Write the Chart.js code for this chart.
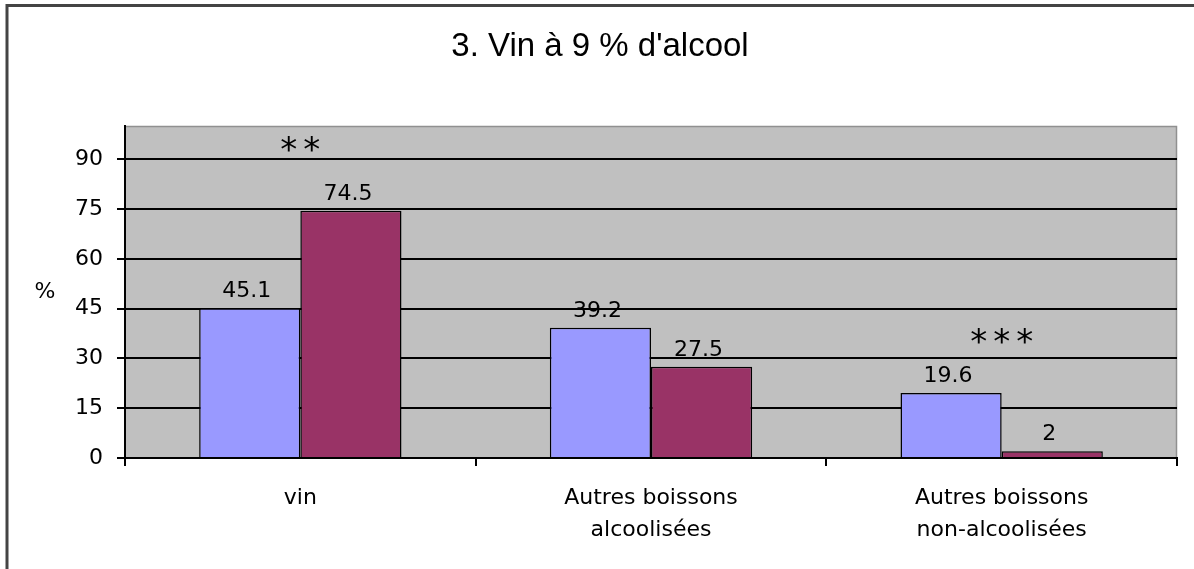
<!DOCTYPE html>
<html><head><meta charset="utf-8">
<script src="https://cdn.jsdelivr.net/npm/chart.js@4.4.0/dist/chart.umd.min.js"></script>
<style>html,body{margin:0;padding:0;background:#fff;overflow:hidden}#wrap{position:relative;width:1194px;height:569px}</style>
</head><body><div id="wrap"><canvas id="c" width="1194" height="569"></canvas></div>
<script>
const titleText = "3. Vin à 9 % d'alcool";
const categories = [["vin"], ["Autres boissons", "alcoolisées"], ["Autres boissons", "non-alcoolisées"]];
const seriesA = [45.1, 39.2, 19.6];
const seriesB = [74.5, 27.5, 2];
const yTicks = [0, 15, 30, 45, 60, 75, 90];
const yMax = 100;
const sigLabels = ["**", "", "***"];
const sigLevels = [95, null, 37];
const yUnit = "%";

const FONT = "'DejaVu Sans', 'Liberation Sans', sans-serif";

const framePlugin = {
  id: 'frame',
  beforeDraw(chart) {
    const ctx = chart.ctx, a = chart.chartArea;
    ctx.save();
    ctx.fillStyle = '#fff';
    ctx.fillRect(0, 0, chart.width, chart.height);
    ctx.strokeStyle = '#444';
    ctx.lineWidth = 3;
    ctx.beginPath();
    ctx.moveTo(7, chart.height); ctx.lineTo(7, 5.5); ctx.lineTo(chart.width, 5.5);
    ctx.stroke();
    ctx.fillStyle = '#C0C0C0';
    ctx.fillRect(a.left, a.top, a.right - a.left, a.bottom - a.top);
    ctx.strokeStyle = '#909090';
    ctx.lineWidth = 1.5;
    ctx.beginPath();
    ctx.moveTo(a.left, a.top + 0.5); ctx.lineTo(a.right - 0.5, a.top + 0.5); ctx.lineTo(a.right - 0.5, a.bottom);
    ctx.stroke();
    ctx.restore();
  },
  afterDraw(chart) {
    const ctx = chart.ctx, ys = chart.scales.y, xs = chart.scales.x;
    ctx.save();
    ctx.fillStyle = '#000';
    // title
    ctx.font = "33px 'Liberation Sans', Arial, sans-serif";
    ctx.textAlign = 'center';
    ctx.textBaseline = 'alphabetic';
    ctx.fillText(titleText, 600, 56);
    // unit label
    ctx.font = "22px " + FONT;
    ctx.textBaseline = 'middle';
    ctx.fillText(yUnit, 45, 292);
    // data labels
    ctx.font = "22px " + FONT;
    ctx.textBaseline = 'alphabetic';
    chart.data.datasets.forEach((ds, di) => {
      const meta = chart.getDatasetMeta(di);
      meta.data.forEach((el, i) => {
        ctx.fillText(String(ds.data[i]), el.x - 3, el.y - 11);
      });
    });
    // significance marks
    ctx.font = "34px " + FONT;
    ctx.letterSpacing = '6px';
    sigLabels.forEach((s, i) => {
      if (!s) return;
      const x = xs.getPixelForValue(i);
      const y = ys.getPixelForValue(sigLevels[i]);
      ctx.fillText(s, x + 3, y + 18);
    });
    ctx.restore();
  }
};

new Chart(document.getElementById('c'), {
  type: 'bar',
  data: {
    labels: categories,
    datasets: [
      { label: 'A', data: seriesA, backgroundColor: '#9999FF', borderColor: '#000', borderWidth: 1.5, categoryPercentage: 0.577, barPercentage: 1 },
      { label: 'B', data: seriesB, backgroundColor: '#993366', borderColor: '#000', borderWidth: 1.5, categoryPercentage: 0.577, barPercentage: 1 }
    ]
  },
  options: {
    responsive: false,
    animation: false,
    devicePixelRatio: 1,
    layout: { padding: { left: 0, right: 17, top: 126, bottom: 0 } },
    plugins: {
      legend: { display: false },
      tooltip: { enabled: false },
      title: { display: false }
    },
    scales: {
      x: {
        grid: { display: true, drawOnChartArea: false, drawTicks: true, tickLength: 8, color: '#000', lineWidth: 2, offset: true },
        border: { display: true, color: '#000', width: 2 },
        ticks: { color: '#000', font: { family: FONT, size: 22, lineHeight: 1.45 }, padding: 16, maxRotation: 0, autoSkip: false },
        afterFit(s) { s.height = 111; }
      },
      y: {
        min: 0, max: yMax,
        afterBuildTicks(s) { s.ticks = yTicks.map(v => ({ value: v })); },
        grid: { color: '#000', lineWidth: 2, tickLength: 8, drawTicks: true },
        border: { display: true, color: '#000', width: 2 },
        ticks: { color: '#000', font: { family: FONT, size: 22 }, padding: 14 },
        afterFit(s) { s.width = 125; }
      }
    }
  },
  plugins: [framePlugin]
});
</script></body></html>
